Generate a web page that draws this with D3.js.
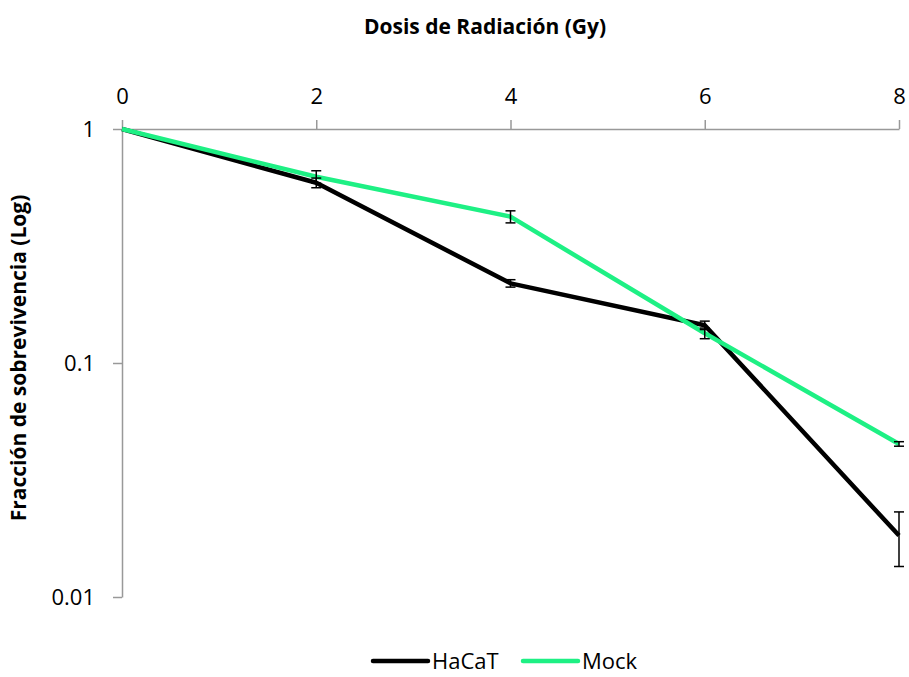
<!DOCTYPE html>
<html>
<head>
<meta charset="utf-8">
<script src="https://cdn.jsdelivr.net/npm/d3@7"></script>
<style>
  body { margin: 0; background: #fff; }
  svg { display: block; font-family: "Open Sans", sans-serif; }
</style>
</head>
<body>
<svg id="chart" width="909" height="677"></svg>
<script>
// values
const dose = [0, 2, 4, 6, 8];
const hacat = [1, 0.589, 0.219, 0.145, 0.0183];
const hacatErr = [0, 0.028, 0.008, 0.006, 0.0048];
const mock = [1, 0.625, 0.422, 0.134, 0.0451];
const mockErr = [0, 0.038, 0.025, 0.007, 0.001];
const xTicks = [0, 2, 4, 6, 8];
const yTicks = [1, 0.1, 0.01];

const series = [
  { name: "HaCaT", values: hacat, err: hacatErr, color: "#000000" },
  { name: "Mock", values: mock, err: mockErr, color: "#1ef084" }
];

const svg = d3.select("#chart");
const plotLeft = 122, plotRight = 899, plotTop = 129, plotBottom = 597;

const x = d3.scaleLinear().domain([0, 8]).range([plotLeft, plotRight]);
const y = d3.scaleLog().domain([0.01, 1]).range([plotBottom, plotTop]);

// title
svg.append("text")
  .attr("x", 485).attr("y", 34)
  .attr("text-anchor", "middle")
  .attr("font-weight", "bold")
  .attr("font-size", 21)
  .text("Dosis de Radiación (Gy)");

// y label
svg.append("text")
  .attr("transform", "translate(26,358) rotate(-90)")
  .attr("text-anchor", "middle")
  .attr("font-weight", "bold")
  .attr("font-size", 21)
  .text("Fracción de sobrevivencia (Log)");

// axes
const xAxis = svg.append("g")
  .attr("transform", `translate(0,${plotTop})`)
  .call(d3.axisTop(x).tickValues(xTicks).tickSize(9).tickSizeOuter(0).tickFormat(d3.format("d")));
const yAxis = svg.append("g")
  .attr("transform", `translate(${plotLeft},0)`)
  .call(d3.axisLeft(y).tickValues(yTicks).tickSize(9).tickSizeOuter(0).tickFormat(d => String(d)));

[xAxis, yAxis].forEach(g => {
  g.select(".domain").attr("stroke", "#999").attr("stroke-width", 1.5);
  g.selectAll(".tick line").attr("stroke", "#999").attr("stroke-width", 1.5);
  g.selectAll(".tick text").attr("fill", "#000").attr("font-size", 22)
    .attr("font-family", "Open Sans, sans-serif");
});
xAxis.selectAll(".tick text").attr("y", -25).attr("dy", 0);
yAxis.selectAll(".tick text").attr("x", -27).attr("dy", "0.35em");

// lines
const line = d3.line().x((d, i) => x(dose[i])).y(d => y(d));
svg.append("g").selectAll("path")
  .data(series)
  .join("path")
  .attr("fill", "none")
  .attr("stroke", d => d.color)
  .attr("stroke-width", 4.5)
  .attr("stroke-linejoin", "round")
  .attr("d", d => line(d.values));

// error bars
const bars = [];
series.forEach(s => s.values.forEach((v, i) => {
  if (s.err[i] > 0) bars.push({ x: dose[i], lo: v - s.err[i], hi: v + s.err[i] });
}));
const eb = svg.append("g").attr("stroke", "#000").attr("stroke-width", 1.5);
eb.selectAll("line.v").data(bars).join("line").attr("class", "v")
  .attr("x1", d => x(d.x)).attr("x2", d => x(d.x))
  .attr("y1", d => y(d.lo)).attr("y2", d => y(d.hi));
eb.selectAll("line.lo").data(bars).join("line").attr("class", "lo")
  .attr("x1", d => x(d.x) - 5).attr("x2", d => x(d.x) + 5)
  .attr("y1", d => y(d.lo)).attr("y2", d => y(d.lo));
eb.selectAll("line.hi").data(bars).join("line").attr("class", "hi")
  .attr("x1", d => x(d.x) - 5).attr("x2", d => x(d.x) + 5)
  .attr("y1", d => y(d.hi)).attr("y2", d => y(d.hi));

// legend
const legend = svg.append("g").selectAll("g")
  .data(series)
  .join("g")
  .attr("transform", (d, i) => `translate(${373 + i * 150},661)`);
legend.append("line")
  .attr("x1", 0).attr("x2", 55)
  .attr("stroke", d => d.color).attr("stroke-width", 4.5).attr("stroke-linecap", "round");
legend.append("text")
  .attr("x", 59).attr("dy", "0.35em")
  .attr("font-size", 22)
  .text(d => d.name);
</script>
</body>
</html>
